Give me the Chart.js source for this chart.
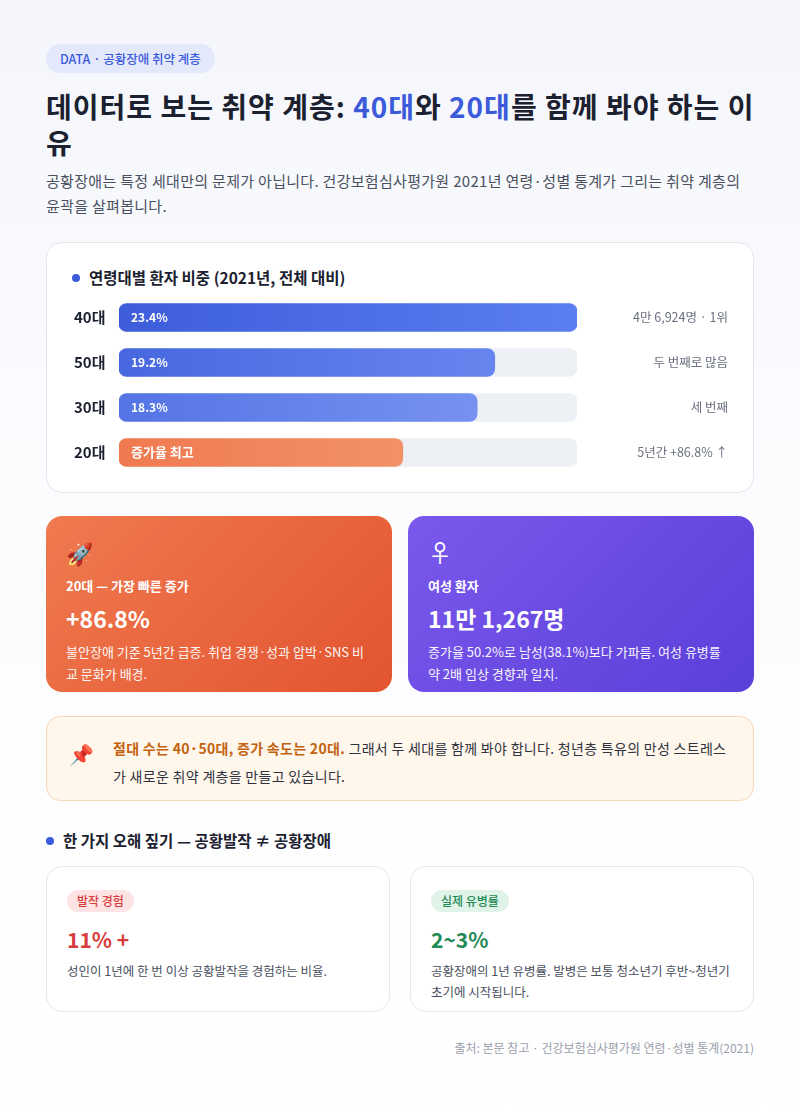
<!DOCTYPE html>
<html><head><meta charset="utf-8">
<script src="https://cdn.jsdelivr.net/npm/chart.js@4"></script>
<style>
*{box-sizing:border-box;margin:0;padding:0}
body{width:800px;height:1107px;font-family:"Noto Sans CJK KR","Noto Sans",sans-serif;background:linear-gradient(180deg,#f4f6fb 0%,#fbfcfe 40%,#fff 100%);position:relative;color:#1f2433}
.abs{position:absolute}
.pill{left:46px;top:44px;height:29px;padding:0 14px;border-radius:15px;background:#e3e9fb;color:#3b5bdb;font-size:12.5px;font-weight:500;line-height:29px}
h1{left:46px;top:88px;width:710px;font-size:28px;font-weight:700;line-height:36px;color:#1c2130;letter-spacing:1px}
h1 span{color:#3b5bdb}
.sub{left:46px;top:168px;width:710px;font-size:15px;line-height:25px;color:#4a5060;letter-spacing:0.3px}
.card{background:#fff;border:1px solid #e4e7ee;border-radius:16px}
.dot{display:inline-block;width:8px;height:8px;border-radius:50%;background:#3b5bdb;margin-right:9px;vertical-align:middle;position:relative;top:-2px}
.ct{font-size:15.5px;font-weight:700;color:#1c2130}
.big{border-radius:16px;color:#fff}
.big .t{font-size:13px;font-weight:700;margin-top:12px}
.big .n{font-size:23px;font-weight:700;margin-top:6px}
.big .d{font-size:13px;line-height:22px;margin-top:6px;opacity:.95}
.note{left:46px;top:716px;width:708px;height:85px;background:#fff6ec;border:1px solid #f6d9b4;border-radius:14px}
.note p{position:absolute;left:66px;top:17px;width:620px;font-size:14px;line-height:28px;color:#2f3340;letter-spacing:0.3px}
.note b{color:#c2620f}
.tag{display:inline-block;height:22px;line-height:22px;padding:0 10px;border-radius:11px;font-size:12px;font-weight:500}
.sc .n{font-size:21px;font-weight:700;margin-top:12px}
.sc .d{font-size:12.5px;line-height:21px;color:#4a5060;margin-top:6px}
</style></head><body>
<div class="abs pill">DATA · 공황장애 취약 계층</div>
<h1 class="abs">데이터로 보는 취약 계층: <span>40대</span>와 <span>20대</span>를 함께 봐야 하는 이유</h1>
<div class="abs sub">공황장애는 특정 세대만의 문제가 아닙니다. 건강보험심사평가원 2021년 연령·성별 통계가 그리는 취약 계층의 윤곽을 살펴봅니다.</div>

<div class="abs card" style="left:46px;top:242px;width:708px;height:251px"></div>
<div class="abs ct" style="left:72px;top:266px"><span class="dot"></span>연령대별 환자 비중 (2021년, 전체 대비)</div>
<div class="abs" style="left:66px;top:295px;width:668px;height:180px"><canvas id="c"></canvas></div>

<div class="abs big" style="left:46px;top:516px;width:346px;height:176px;background:linear-gradient(135deg,#f07a4f,#e25430);padding:24px 20px">
<div style="font-size:22px;line-height:24px">🚀</div>
<div class="t">20대 — 가장 빠른 증가</div><div class="n">+86.8%</div>
<div class="d">불안장애 기준 5년간 급증. 취업 경쟁·성과 압박·SNS 비교 문화가 배경.</div></div>
<div class="abs big" style="left:408px;top:516px;width:346px;height:176px;background:linear-gradient(135deg,#7b58ec,#5a3fd9);padding:24px 20px">
<div style="font-size:24px;line-height:24px">♀</div>
<div class="t">여성 환자</div><div class="n">11만 1,267명</div>
<div class="d">증가율 50.2%로 남성(38.1%)보다 가파름. 여성 유병률 약 2배 임상 경향과 일치.</div></div>

<div class="abs note"><span style="position:absolute;left:22px;top:22px;font-size:20px">📌</span>
<p><b>절대 수는 40·50대, 증가 속도는 20대.</b> 그래서 두 세대를 함께 봐야 합니다. 청년층 특유의 만성 스트레스가 새로운 취약 계층을 만들고 있습니다.</p></div>

<div class="abs ct" style="left:46px;top:829px"><span class="dot"></span>한 가지 오해 짚기 — 공황발작 ≠ 공황장애</div>
<div class="abs card sc" style="left:46px;top:866px;width:344px;height:146px;padding:20px 20px">
<span class="tag" style="background:#fde3e3;color:#d63c3c">발작 경험</span>
<div class="n" style="color:#d63c3c">11% +</div>
<div class="d">성인이 1년에 한 번 이상 공황발작을 경험하는 비율.</div></div>
<div class="abs card sc" style="left:410px;top:866px;width:344px;height:146px;padding:20px 20px">
<span class="tag" style="background:#dff3e8;color:#1f8a55">실제 유병률</span>
<div class="n" style="color:#1f8a55">2~3%</div>
<div class="d">공황장애의 1년 유병률. 발병은 보통 청소년기 후반~청년기 초기에 시작됩니다.</div></div>
<div class="abs" style="right:46px;top:1039px;font-size:12px;color:#9aa0ad">출처: 본문 참고 · 건강보험심사평가원 연령·성별 통계(2021)</div>

<script>
const categories=["40대","50대","30대","20대"];
const shares=[23.4,19.2,18.3,14.5];
const barLabels=["23.4%","19.2%","18.3%","증가율 최고"];
const notes=["4만 6,924명 · 1위","두 번째로 많음","세 번째","5년간 +86.8% ↑"];
const maxShare=23.4;
const grads=[["#3d5ddb","#5b7ef0"],["#4767df","#6e8cf2"],["#5574e5","#7e9af4"],["#f07a50","#f49f76"]];
const deco={id:"deco",afterDatasetsDraw(ch){const c=ch.ctx;const m=ch.getDatasetMeta(1);
m.data.forEach((b,i)=>{c.save();c.textBaseline="middle";
c.font="700 15px 'Noto Sans CJK KR'";c.fillStyle="#1c2130";c.textAlign="left";c.fillText(categories[i],8,b.y);
c.font=(i==3?"700 13px":"700 12px")+" 'Noto Sans CJK KR'";c.fillStyle="#fff";c.fillText(barLabels[i],ch.chartArea.left+12,b.y);
c.font="400 12.5px 'Noto Sans CJK KR'";c.fillStyle="#6b7080";c.textAlign="right";c.fillText(notes[i],ch.width-6,b.y);c.restore();});}};
new Chart(document.getElementById("c"),{type:"bar",
data:{labels:categories,datasets:[
{data:categories.map(()=>maxShare),backgroundColor:"#edf0f5",borderRadius:8,borderSkipped:false,barThickness:28,grouped:false,order:2},
{data:shares,borderRadius:8,borderSkipped:false,barThickness:28,grouped:false,order:1,
backgroundColor(ctx){const a=ctx.chart.chartArea;if(!a)return grads[ctx.dataIndex][0];const g=ctx.chart.ctx.createLinearGradient(a.left,0,a.right,0);g.addColorStop(0,grads[ctx.dataIndex][0]);g.addColorStop(1,grads[ctx.dataIndex][1]);return g;}}]},
options:{indexAxis:"y",responsive:true,maintainAspectRatio:false,animation:false,
layout:{padding:{left:53,right:157,top:0,bottom:0}},
plugins:{legend:{display:false},tooltip:{enabled:false}},
scales:{x:{display:false,min:0,max:maxShare},y:{display:false}}},plugins:[deco]});
</script></body></html>
